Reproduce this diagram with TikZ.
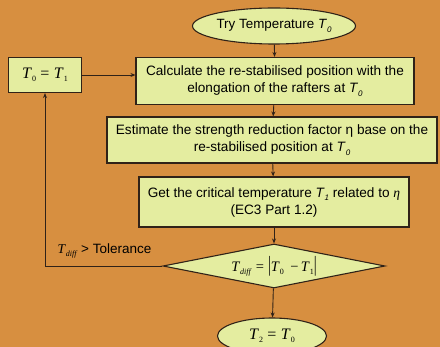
\documentclass[tikz,border=0pt]{standalone}
\usepackage{fontspec}
\setmainfont{Liberation Sans}
\newfontfamily\timesfont{Liberation Serif}
\usepackage{tikz}
\usetikzlibrary{arrows.meta,positioning,shapes.geometric}

\definecolor{slide}{RGB}{215,143,64}
\definecolor{boxfill}{RGB}{228,237,160}
\definecolor{ink}{RGB}{48,34,24}

% T with subscript, sans italic (running text) and Times (formulas)
\newcommand{\Tsans}[1]{\textit{T}\raisebox{-0.45ex}{\footnotesize\textit{#1}}}
\newcommand{\Tser}[1]{{\timesfont\textit{T}\raisebox{-0.45ex}{\footnotesize #1}}}
\newcommand{\Tdiff}{{\timesfont\textit{T}\raisebox{-0.45ex}{\footnotesize\textit{diff}}}}
\newcommand{\bigbar}{{\timesfont\scalebox{1}[1.5]{|}}}

\begin{document}
\begin{tikzpicture}[x=1pt,y=-1pt,
    box/.style={draw=ink,line width=1.1pt,fill=boxfill,align=center,
      font=\fontsize{13.6}{17}\selectfont,inner sep=2pt},
    term/.style={ellipse,draw=ink,line width=1.1pt,fill=boxfill,inner sep=0pt,
      font=\fontsize{13.4}{15}\selectfont},
    test/.style={diamond,draw=ink,line width=1.1pt,fill=boxfill,aspect=5,inner sep=0pt},
    flow/.style={draw=ink,line width=0.9pt,-{Stealth[length=5pt,width=4pt]}}]
  % Slide background
  \fill[slide] (0,0) rectangle (440,347);
  \useasboundingbox (0,0) rectangle (440,347);
  \clip (0,0) rectangle (440,347);
  % Start
  \node[term,minimum width=163pt,minimum height=36pt] (try) at (274,26)
    {Try Temperature \Tsans{0}};
  % Process steps
  \node[box,minimum width=278pt,minimum height=47pt] (calc) at (275,81)
    {Calculate the re-stabilised position with the\\elongation of the rafters at \Tsans{0}};
  \node[box,minimum width=330pt,minimum height=46pt,inner sep=1pt] (estim) at (272,140)
    {Estimate the strength reduction factor η base on the\\re-stabilised position at \Tsans{0}};
  \node[box,minimum width=270pt,minimum height=50pt] (crit) at (274,202)
    {Get the critical temperature \Tsans{1} related to {\timesfont\textit{η}}\\(EC3 Part 1.2)};
  % Check
  \node[test,minimum width=222pt,minimum height=44pt] (check) at (274,266)
    {\fontsize{14.5}{16}\selectfont\Tdiff{} {\timesfont=} \bigbar\Tser{0} {\timesfont\,−\,}\Tser{1}\bigbar};
  % Update and end
  \node[box,minimum width=73pt,minimum height=35pt] (update) at (45,75)
    {\fontsize{16}{18}\selectfont\Tser{0} {\timesfont=} \Tser{1}};
  \node[term,minimum width=109pt,minimum height=36pt] (done) at (272,336)
    {\fontsize{16}{18}\selectfont\Tser{2} {\timesfont=} \Tser{0}};
  % Connectors
  \draw[flow] (try) -- (calc);
  \draw[flow] (calc) -- (estim);
  \draw[flow] (estim) -- (crit);
  \draw[flow] (crit) -- (check);
  \draw[flow] (check) -- (done);
  \draw[flow] (update) -- (calc.west |- update);
  \coordinate (corner) at (update.south |- check.west);
  \draw[flow] (check.west) -- (corner) -- (update.south);
  \node[anchor=west,font=\fontsize{13.5}{16}\selectfont] (tol) at (54,251)
    {\Tdiff{} > Tolerance};
\end{tikzpicture}
\end{document}
